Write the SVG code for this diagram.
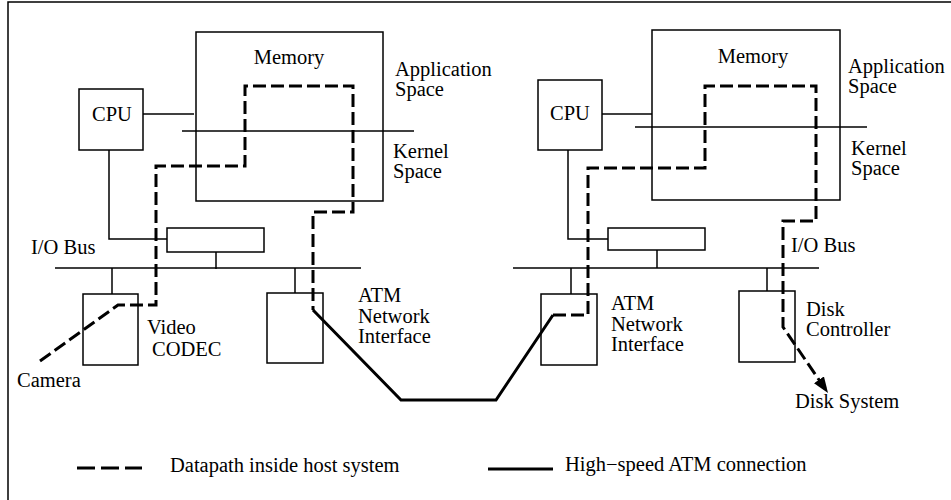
<svg xmlns="http://www.w3.org/2000/svg" width="951" height="500" viewBox="0 0 951 500" font-family="'Liberation Serif', 'DejaVu Serif', serif">
<defs>
<style>
.box{fill:none;stroke:#000;stroke-width:1.5}
.thin{fill:none;stroke:#000;stroke-width:1.5}
.dash{fill:none;stroke:#000;stroke-width:3;stroke-dasharray:13 5}
.solid{fill:none;stroke:#000;stroke-width:3}
text{font-family:'Liberation Serif','DejaVu Serif',serif;font-size:20.5px;fill:#000}
.c{text-anchor:middle}
</style>
<marker id="arr" markerUnits="userSpaceOnUse" markerWidth="20" markerHeight="14" refX="16" refY="6" orient="auto">
<path d="M0,0 L16,6 L0,12 Z" fill="#000"/>
</marker>
</defs>
<rect x="0" y="0" width="951" height="500" fill="#fff"/>
<path d="M8,500 V2 H951" class="thin"/>

<g id="host-left">
<g id="memory-left"><rect x="196" y="32" width="187" height="169" class="box"/><text x="289" y="64" class="c">Memory</text></g>
<g id="cpu-left"><rect x="79" y="89" width="64" height="61" class="box"/><text x="112" y="121" class="c">CPU</text></g>
<g id="bridge-left"><rect x="167" y="228" width="97" height="24" class="box"/></g>
<g id="codec-left"><rect x="83" y="294" width="55" height="71" class="box"/><text x="147" y="334">Video</text><text x="152" y="356">CODEC</text></g>
<g id="atm-left"><rect x="267" y="293" width="56" height="70" class="box"/><text x="358" y="302">ATM</text><text x="358" y="323">Network</text><text x="358" y="343">Interface</text></g>
<text x="395" y="76">Application</text><text x="395" y="96">Space</text>
<text x="393" y="158">Kernel</text><text x="393" y="178">Space</text>
<text x="31" y="254">I/O Bus</text>
<text x="17" y="387">Camera</text>
</g>

<g id="host-right">
<g id="memory-right"><rect x="652" y="30" width="188" height="170" class="box"/><text x="753" y="63" class="c">Memory</text></g>
<g id="cpu-right"><rect x="538" y="80" width="64" height="70" class="box"/><text x="570" y="120" class="c">CPU</text></g>
<g id="bridge-right"><rect x="608" y="228" width="97" height="22" class="box"/></g>
<g id="atm-right"><rect x="541" y="294" width="56" height="71" class="box"/><text x="611" y="310">ATM</text><text x="611" y="331">Network</text><text x="611" y="351">Interface</text></g>
<g id="disk-right"><rect x="739" y="291" width="56" height="71" class="box"/><text x="806" y="316">Disk</text><text x="806" y="336">Controller</text></g>
<text x="848" y="73">Application</text><text x="848" y="93">Space</text>
<text x="851" y="155">Kernel</text><text x="851" y="175">Space</text>
<text x="791" y="252">I/O Bus</text>
<text x="795" y="408">Disk System</text>
</g>

<g id="connectors">
<path d="M143,114 H194" class="thin"/>
<path d="M182,131 H414" class="thin"/>
<path d="M109,150 V239 H167" class="thin"/>
<path d="M216,252 V269" class="thin"/>
<path d="M55,268 H361" class="thin"/>
<path d="M112,268 V294" class="thin"/>
<path d="M295,268 V293" class="thin"/>
<path d="M602,114 H652" class="thin"/>
<path d="M635,127 H867" class="thin"/>
<path d="M568,150 V239 H608" class="thin"/>
<path d="M657,250 V268" class="thin"/>
<path d="M513,268 H819" class="thin"/>
<path d="M571,268 V294" class="thin"/>
<path d="M767,268 V291" class="thin"/>
<path d="M40,361 L118,305 H156 V166 H245 V86 H353 V212 H313 V310" class="dash"/>
<path d="M313,310 L401,400 H496 L553,315" class="solid"/>
<path d="M553,315 H588 V168 H705 V86 H816 V221 H783 V327 L828,393" class="dash" marker-end="url(#arr)"/>
</g>

<g id="legend">
<path d="M77,468 H142" class="solid" style="stroke-dasharray:18 6"/>
<text x="170" y="472">Datapath inside host system</text>
<path d="M488,469 H553" class="solid"/>
<text x="565" y="471">High−speed ATM connection</text>
</g>
</svg>
